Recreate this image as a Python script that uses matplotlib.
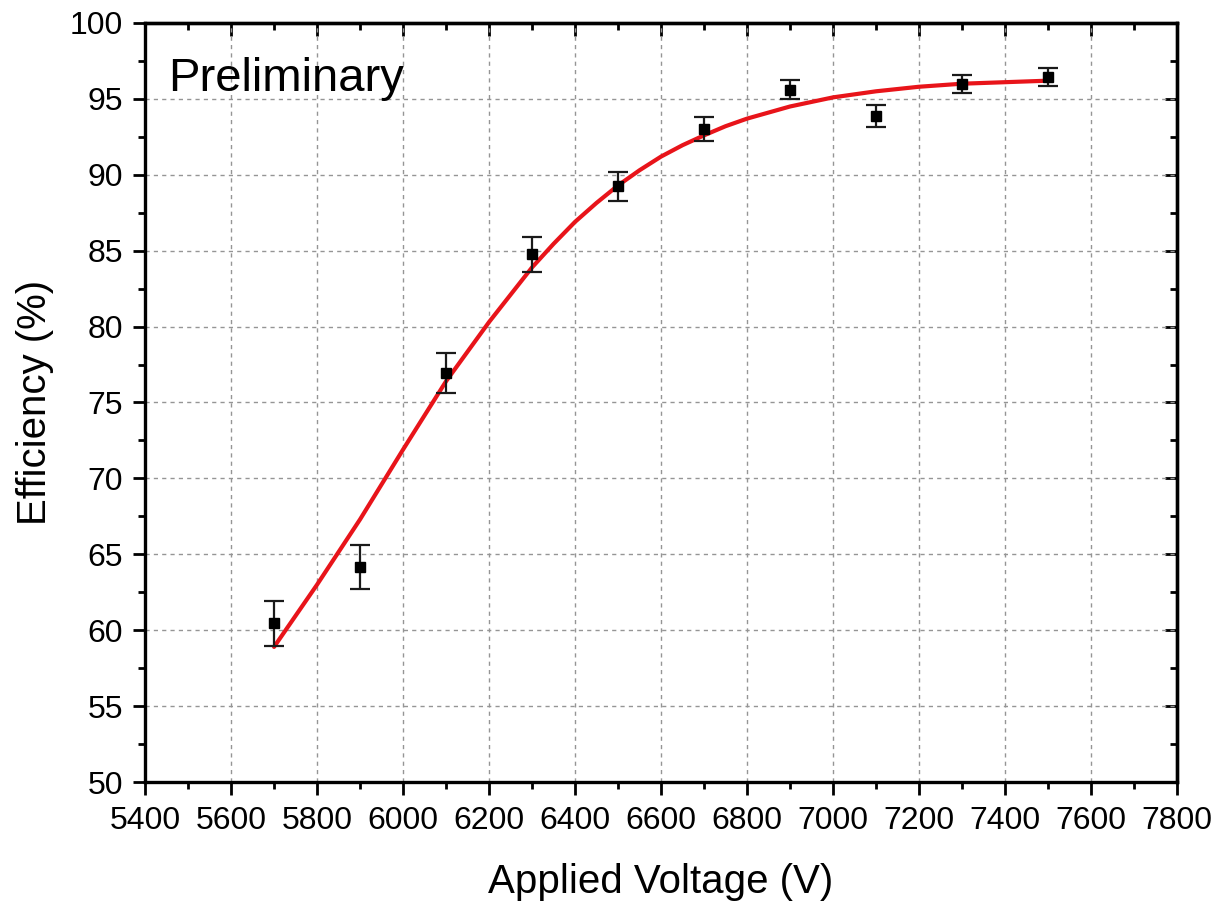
import matplotlib

matplotlib.use("Agg")
import matplotlib.pyplot as plt
from matplotlib.ticker import MultipleLocator

plt.rcParams["font.family"] = ["Liberation Sans", "DejaVu Sans"]

# measured points (applied voltage, efficiency, error)
voltage = [5700, 5900, 6100, 6300, 6500, 6700, 6900, 7100, 7300, 7500]
efficiency = [60.45, 64.15, 76.95, 84.75, 89.25, 93.0, 95.6, 93.85, 95.98, 96.42]
eff_err = [1.5, 1.45, 1.3, 1.15, 0.95, 0.8, 0.63, 0.72, 0.6, 0.6]

# fit curve
fit_v = [5700, 5800, 5900, 6000, 6100, 6200, 6300, 6350, 6400, 6450, 6500,
         6550, 6600, 6650, 6700, 6750, 6800, 6850, 6900, 6950, 7000,
         7100, 7200, 7300, 7400, 7500]
fit_eff = [58.9, 63.0, 67.3, 71.9, 76.4, 80.3, 83.9, 85.45, 86.9, 88.15, 89.3,
           90.3, 91.2, 91.95, 92.6, 93.2, 93.7, 94.1, 94.5, 94.8, 95.1,
           95.5, 95.8, 96.0, 96.1, 96.2]

TICK_W = 2.0

fig = plt.figure(figsize=(12.2, 9.05), dpi=100)
ax = fig.add_axes([0.1189, 0.1359, 0.9648 - 0.1189, 0.9746 - 0.1359])

ax.plot(fit_v, fit_eff, color="#e8141a", lw=3.0, zorder=3,
        solid_capstyle="round", solid_joinstyle="round")
ax.errorbar(voltage, efficiency, yerr=eff_err, fmt="s", color="black", ms=7.5,
            ecolor="#1a1a1a", elinewidth=1.6, capsize=7.5, capthick=1.6, zorder=4)

ax.set_xlim(5400, 7800)
ax.set_ylim(50, 100)
ax.xaxis.set_major_locator(MultipleLocator(200))
ax.xaxis.set_minor_locator(MultipleLocator(100))
ax.yaxis.set_major_locator(MultipleLocator(5))
ax.yaxis.set_minor_locator(MultipleLocator(2.5))

ax.grid(True, which="major", color="#959595", lw=1.0, ls=(0, (3, 3)))
ax.set_axisbelow(True)

for s in ax.spines.values():
    s.set_linewidth(2.4)

ax.tick_params(which="both", direction="out", width=TICK_W, labelsize=23)
ax.tick_params(axis="x", pad=8)
ax.tick_params(axis="y", pad=7)
ax.tick_params(which="major", length=9)
ax.tick_params(which="minor", length=5)

# inward ticks on top and right, no labels
ax_top = ax.secondary_xaxis("top")
ax_top.xaxis.set_major_locator(MultipleLocator(200))
ax_top.xaxis.set_minor_locator(MultipleLocator(100))
ax_top.tick_params(which="both", direction="in", width=TICK_W, labeltop=False)
ax_top.tick_params(which="major", length=9)
ax_top.tick_params(which="minor", length=5)
ax_top.spines["top"].set_linewidth(2.4)
ax_right = ax.secondary_yaxis("right")
ax_right.yaxis.set_major_locator(MultipleLocator(5))
ax_right.yaxis.set_minor_locator(MultipleLocator(2.5))
ax_right.tick_params(which="both", direction="in", width=TICK_W, labelright=False)
ax_right.tick_params(which="major", length=9)
ax_right.tick_params(which="minor", length=5)
ax_right.spines["right"].set_linewidth(2.4)

ax.set_xlabel("Applied Voltage (V)", fontsize=29, labelpad=20)
ax.set_ylabel("Efficiency (%)", fontsize=29, labelpad=11)

ax.text(0.022, 0.955, "Preliminary", transform=ax.transAxes, fontsize=34,
        ha="left", va="top")

fig.savefig("out.png", dpi=100)
